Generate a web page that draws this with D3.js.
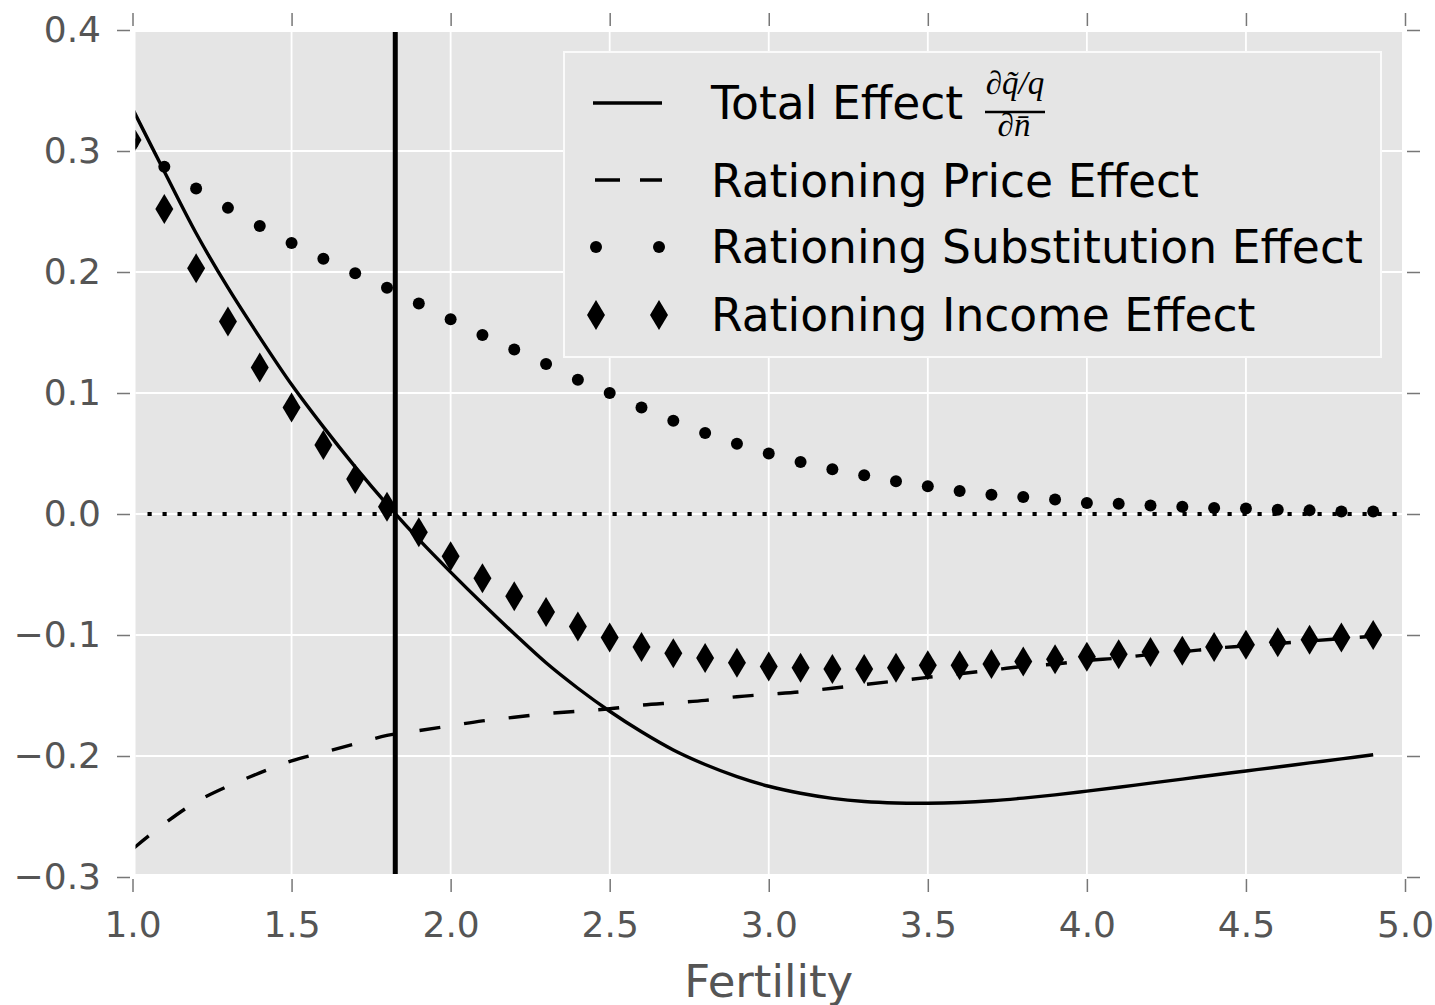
<!DOCTYPE html>
<html>
<head>
<meta charset="utf-8">
<script src="https://cdn.jsdelivr.net/npm/d3@7"></script>
<style>
  html, body { margin: 0; padding: 0; background: #ffffff; }
  svg { display: block; }
</style>
</head>
<body>
<svg id="chart" width="1435" height="1005"></svg>
<script>
// ---------------- DATA ----------------
const fertility = [1.0,1.1,1.2,1.3,1.4,1.5,1.6,1.7,1.8,1.9,
                   2.0,2.1,2.2,2.3,2.4,2.5,2.6,2.7,2.8,2.9,
                   3.0,3.1,3.2,3.3,3.4,3.5,3.6,3.7,3.8,3.9,
                   4.0,4.1,4.2,4.3,4.4,4.5,4.6,4.7,4.8,4.9];

const totalEffect = [0.335,0.283,0.232,0.187,0.146,0.107,0.072,0.039,0.008,-0.021,
                     -0.048,-0.074,-0.099,-0.123,-0.144,-0.163,-0.180,-0.195,-0.207,-0.217,
                     -0.2250,-0.2308,-0.2350,-0.2376,-0.2388,-0.2390,-0.2384,-0.2370,-0.2348,-0.2321,
                     -0.2290,-0.2258,-0.2224,-0.2191,-0.2157,-0.2124,-0.2091,-0.2057,-0.2024,-0.1990];

const priceEffect = [-0.277,-0.256,-0.238,-0.225,-0.214,-0.204,-0.197,-0.190,-0.183,-0.179,
                     -0.175,-0.171,-0.168,-0.165,-0.163,-0.161,-0.158,-0.156,-0.154,-0.151,
                     -0.149,-0.147,-0.144,-0.141,-0.138,-0.135,-0.132,-0.129,-0.126,-0.124,
                     -0.121,-0.119,-0.116,-0.114,-0.111,-0.109,-0.107,-0.105,-0.103,-0.101];

const substitutionEffect = [0.306,0.287,0.269,0.253,0.238,0.224,0.211,0.199,0.187,0.174,
                            0.161,0.148,0.136,0.124,0.111,0.100,0.088,0.077,0.067,0.058,
                            0.050,0.043,0.037,0.032,0.027,0.023,0.019,0.016,0.014,0.012,
                            0.009,0.0085,0.007,0.006,0.005,0.0045,0.0036,0.003,0.002,0.002];

const incomeEffect = [0.309,0.252,0.203,0.159,0.121,0.088,0.057,0.029,0.006,-0.015,
                      -0.035,-0.053,-0.068,-0.081,-0.093,-0.102,-0.110,-0.115,-0.119,-0.123,
                      -0.126,-0.127,-0.128,-0.128,-0.127,-0.125,-0.125,-0.124,-0.122,-0.120,
                      -0.118,-0.116,-0.114,-0.113,-0.110,-0.108,-0.106,-0.104,-0.102,-0.100];

const replacementFertility = 1.826;
const xTicks = [1.0,1.5,2.0,2.5,3.0,3.5,4.0,4.5,5.0];
const yTicks = [0.4,0.3,0.2,0.1,0.0,-0.1,-0.2,-0.3];
const xLabel = "Fertility";
const legendLabels = ["Total Effect", "Rationing Price Effect",
                      "Rationing Substitution Effect", "Rationing Income Effect"];

// ---------------- LAYOUT ----------------
const svg = d3.select("#chart");
const x = d3.scaleLinear().domain([1, 5]).range([132.5, 1405]);
const y = d3.scaleLinear().domain([-0.3, 0.4]).range([877, 30]);

const plotL = x(1) + 3, plotR = x(5) - 3, plotT = y(0.4) + 2, plotB = y(-0.3) - 3;
const bg = "#e5e5e5";
const tickColor = "#777";
const labelColor = "#555";
const fontFamily = "'DejaVu Sans', sans-serif";

svg.append("defs").append("clipPath").attr("id", "clip")
  .append("rect").attr("x", plotL).attr("y", plotT)
  .attr("width", plotR - plotL).attr("height", plotB - plotT);

svg.append("rect").attr("x", plotL).attr("y", plotT)
  .attr("width", plotR - plotL).attr("height", plotB - plotT).attr("fill", bg);

// grid
const grid = svg.append("g");
grid.selectAll(".gx").data(xTicks).join("line")
  .attr("x1", d => x(d)).attr("x2", d => x(d)).attr("y1", plotT).attr("y2", plotB)
  .attr("stroke", "#fff").attr("stroke-width", 1.8);
grid.selectAll(".gy").data(yTicks).join("line")
  .attr("x1", plotL).attr("x2", plotR).attr("y1", d => y(d)).attr("y2", d => y(d))
  .attr("stroke", "#fff").attr("stroke-width", 1.8);

// axes
const fmt = d3.format(".1f");
function styleAxis(g, showLabels) {
  g.select(".domain").remove();
  g.selectAll(".tick line").attr("stroke", tickColor).attr("stroke-width", 1.5);
  g.selectAll(".tick text").attr("fill", labelColor)
    .style("font-family", fontFamily).style("font-size", "36px");
  if (!showLabels) g.selectAll(".tick text").remove();
}
svg.append("g").attr("transform", `translate(0,879)`)
  .call(d3.axisBottom(x).tickValues(xTicks).tickFormat(fmt).tickSize(13).tickPadding(19))
  .call(g => styleAxis(g, true));
svg.append("g").attr("transform", `translate(0,26)`)
  .call(d3.axisTop(x).tickValues(xTicks).tickSize(13))
  .call(g => styleAxis(g, false));
svg.append("g").attr("transform", `translate(130,0)`)
  .call(d3.axisLeft(y).tickValues(yTicks).tickFormat(fmt).tickSize(13).tickPadding(16))
  .call(g => styleAxis(g, true));
svg.append("g").attr("transform", `translate(1407,0)`)
  .call(d3.axisRight(y).tickValues(yTicks).tickSize(13))
  .call(g => styleAxis(g, false));

// x label
svg.append("text").attr("x", (x(1) + x(5)) / 2).attr("y", 997)
  .attr("text-anchor", "middle").attr("fill", labelColor)
  .style("font-family", fontFamily).style("font-size", "45px").text(xLabel);

// ---------------- DATA MARKS ----------------
const plot = svg.append("g").attr("clip-path", "url(#clip)");
const idx = d3.range(fertility.length);

const line = vals => d3.line()
  .x(i => x(fertility[i])).y(i => y(vals[i]))
  .curve(d3.curveCatmullRom.alpha(0.5))(idx);

// total effect (solid)
plot.append("path").attr("d", line(totalEffect))
  .attr("fill", "none").attr("stroke", "#000").attr("stroke-width", 3.4);

// price effect (dashed)
plot.append("path").attr("d", line(priceEffect))
  .attr("fill", "none").attr("stroke", "#000").attr("stroke-width", 3.4)
  .attr("stroke-dasharray", "21,24");

// substitution (dots)
plot.selectAll(".sub").data(idx).join("circle")
  .attr("cx", i => x(fertility[i])).attr("cy", i => y(substitutionEffect[i]))
  .attr("r", 6).attr("fill", "#000");

// income (thin diamonds)
const diamond = (cx, cy) => `M${cx},${cy - 15}L${cx + 9},${cy}L${cx},${cy + 15}L${cx - 9},${cy}Z`;
plot.selectAll(".inc").data(idx).join("path")
  .attr("d", i => diamond(x(fertility[i]), y(incomeEffect[i])))
  .attr("fill", "#000");

// zero reference (dotted)
plot.append("line").attr("x1", plotL + 12).attr("x2", plotR - 4)
  .attr("y1", y(0)).attr("y2", y(0))
  .attr("stroke", "#000").attr("stroke-width", 4.2).attr("stroke-dasharray", "4.2,10.8");

// replacement fertility vertical line
plot.append("line").attr("x1", x(replacementFertility)).attr("x2", x(replacementFertility))
  .attr("y1", plotT).attr("y2", plotB)
  .attr("stroke", "#000").attr("stroke-width", 5);

// ---------------- LEGEND ----------------
const lg = svg.append("g");
lg.append("rect").attr("x", 564).attr("y", 52).attr("width", 1381 - 564).attr("height", 357 - 52)
  .attr("fill", bg).attr("stroke", "#fafafa").attr("stroke-width", 2);

const rowY = [103, 180, 247, 315];
const textY = [119, 197, 263, 331];
lg.append("line").attr("x1", 593).attr("x2", 662).attr("y1", rowY[0]).attr("y2", rowY[0])
  .attr("stroke", "#000").attr("stroke-width", 3.4);
lg.append("line").attr("x1", 595).attr("x2", 662).attr("y1", rowY[1]).attr("y2", rowY[1])
  .attr("stroke", "#000").attr("stroke-width", 3.4).attr("stroke-dasharray", "25,20");
[596, 659].forEach(cx => {
  lg.append("circle").attr("cx", cx).attr("cy", rowY[2]).attr("r", 6).attr("fill", "#000");
  lg.append("path").attr("d", diamond(cx, rowY[3])).attr("fill", "#000");
});
legendLabels.forEach((t, i) => {
  lg.append("text").attr("x", 711).attr("y", textY[i]).attr("fill", "#000")
    .style("font-family", fontFamily).style("font-size", "45.6px").text(t);
});
// fraction  ∂q̃/q over ∂n̄
const mathFont = "'Liberation Serif', 'DejaVu Serif', serif";
lg.append("text").attr("x", 1015).attr("y", 94).attr("text-anchor", "middle")
  .style("font-family", mathFont).style("font-style", "italic").style("font-size", "33px")
  .text("\u2202q\u0303/q");
lg.append("line").attr("x1", 985).attr("x2", 1045).attr("y1", 112).attr("y2", 112)
  .attr("stroke", "#000").attr("stroke-width", 2.6);
lg.append("text").attr("x", 1014).attr("y", 136).attr("text-anchor", "middle")
  .style("font-family", mathFont).style("font-style", "italic").style("font-size", "33px")
  .text("\u2202n\u0304");
</script>
</body>
</html>
